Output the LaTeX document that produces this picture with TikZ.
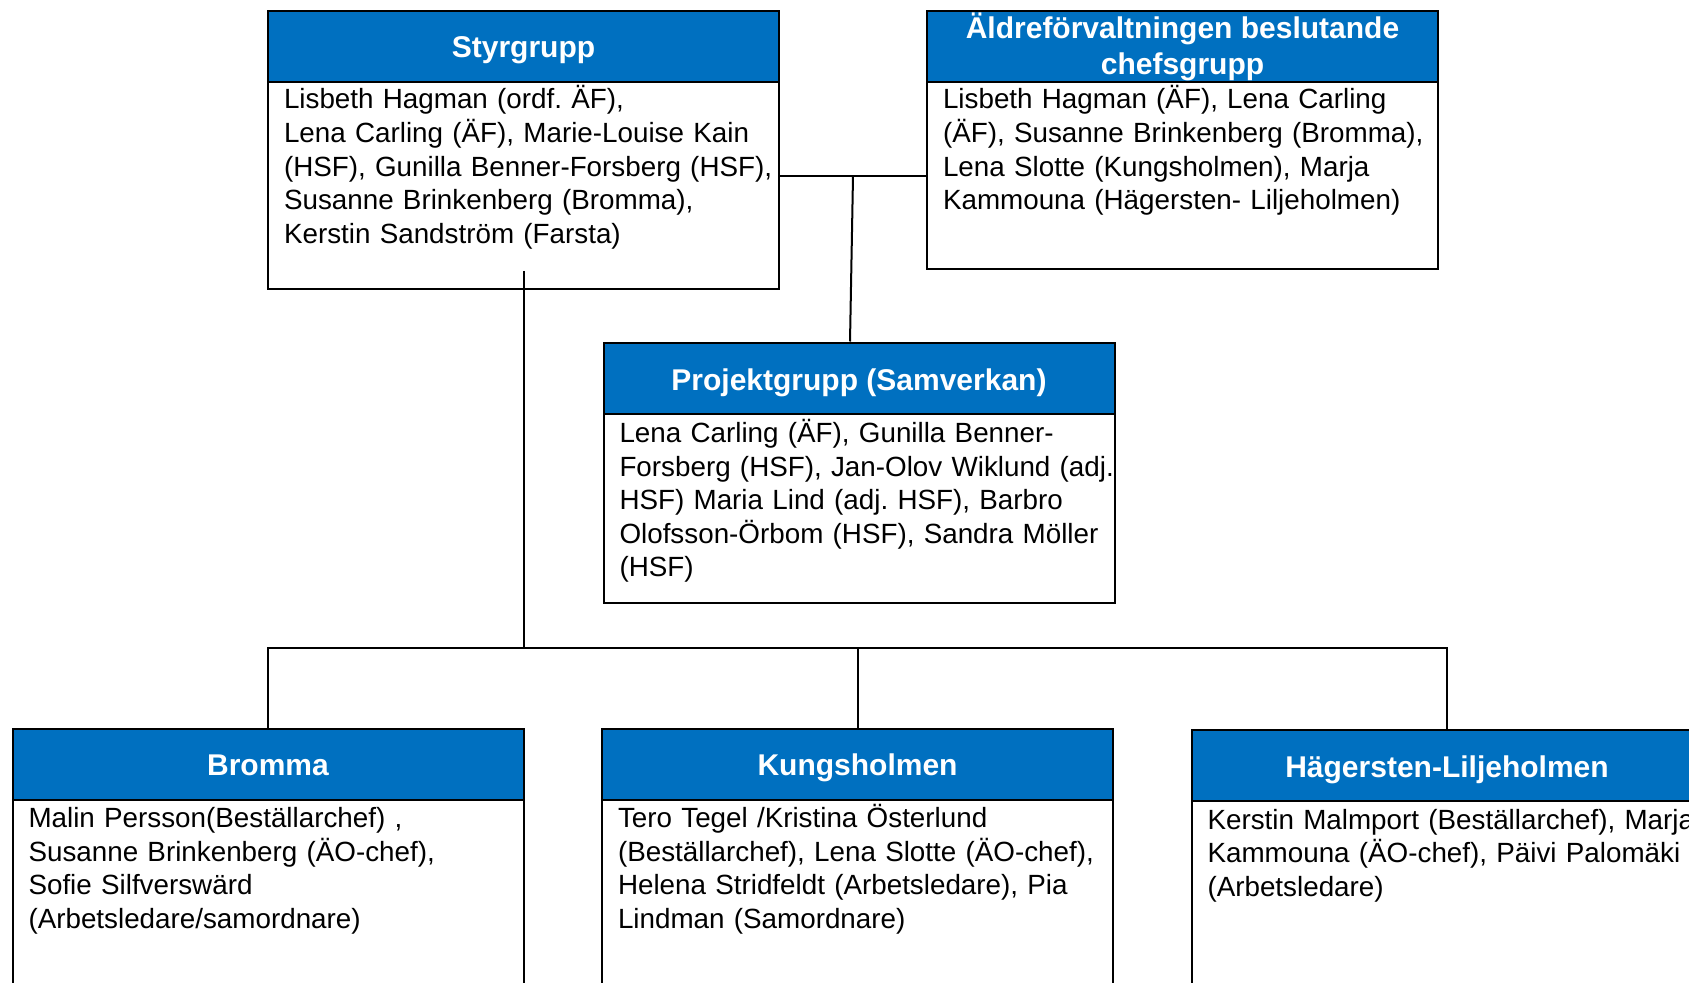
\documentclass[tikz,border=0pt]{standalone}
\usepackage{fontspec}
\setmainfont{Liberation Sans}
\usetikzlibrary{positioning}
\definecolor{hdblue}{RGB}{0,112,192}
\frenchspacing

\begin{document}
\begin{tikzpicture}[x=0.5pt,y=-0.5pt,line width=1pt,
    head/.style={draw=black,line width=1pt,fill=hdblue,text=white,font=\fontsize{15}{18}\selectfont\bfseries,minimum width=255.5pt,minimum height=35.5pt,inner ysep=0pt,outer sep=0pt,align=center,text height=12pt,text depth=0.5pt},
    body/.style={draw=black,line width=1pt,minimum width=255.5pt,outer sep=0pt},
    txt/.style={anchor=base west,inner sep=0pt,text width=300pt,align=left,font=\fontsize{13.9}{16.8}\selectfont},
    elbow/.style={to path={-| (\tikztotarget)}}]
            \useasboundingbox(0, 0)rectangle(1689, 983);
            \node[head](styr)at(523.5, 46.5){Styrgrupp};
            \node[body,below=0pt of styr,minimum height=103.5pt](styrbox){};
            \node[txt](styrtext)at([shift={(15,27)}]styrbox.north west){Lisbeth Hagman (ordf. ÄF),\\Lena Carling (ÄF), Marie-Louise Kain\\(HSF), Gunilla Benner-Forsberg (HSF),\\Susanne Brinkenberg (Bromma),\\Kerstin Sandström (Farsta)};
            \node[head,text height={},text depth={}](chef)at(1182.5, 46.5){Äldreförvaltningen beslutande\\chefsgrupp};
            \node[body,below=0pt of chef,minimum height=93.5pt](chefbox){};
            \node[txt](cheftext)at([shift={(15,27)}]chefbox.north west){Lisbeth Hagman (ÄF), Lena Carling\\(ÄF), Susanne Brinkenberg (Bromma),\\Lena Slotte (Kungsholmen), Marja\\Kammouna (Hägersten- Liljeholmen)};
            \node[head](proj)at(859, 379){Projektgrupp (Samverkan)};
            \node[body,below=0pt of proj,minimum height=94pt](projbox){};
            \node[txt](projtext)at([shift={(15,28)}]projbox.north west){Lena Carling (ÄF), Gunilla Benner-\\Forsberg (HSF), Jan-Olov Wiklund (adj.\\HSF) Maria Lind (adj. HSF), Barbro\\Olofsson-Örbom (HSF), Sandra Möller\\(HSF)};
            \node[head](brom)at(268, 764){Bromma};
            \node[body,below=0pt of brom,minimum height=150pt](brombox){};
            \node[txt](bromtext)at([shift={(15,28)}]brombox.north west){Malin Persson(Beställarchef) ,\\Susanne Brinkenberg (ÄO-chef),\\Sofie Silfverswärd\\(Arbetsledare/samordnare)};
            \node[head](kung)at(857.5, 764){Kungsholmen};
            \node[body,below=0pt of kung,minimum height=150pt](kungbox){};
            \node[txt](kungtext)at([shift={(15,28)}]kungbox.north west){Tero Tegel /Kristina Österlund\\(Beställarchef), Lena Slotte (ÄO-chef),\\Helena Stridfeldt (Arbetsledare), Pia\\Lindman (Samordnare)};
            \node[head](hag)at(1447, 765.5){Hägersten-Liljeholmen};
            \node[body,below=0pt of hag,minimum height=150pt](hagbox){};
            \node[txt](hagtext)at([shift={(15,28)}]hagbox.north west){Kerstin Malmport (Beställarchef), Marja\\Kammouna (ÄO-chef), Päivi Palomäki\\(Arbetsledare)};
            \coordinate(j1)at(853, 176);
            \coordinate(bus)at(523.5, 648);
            \path[](styrbox.east|-j1) edge (chefbox.west|-j1)
            (j1) edge ([shift={(-9,-2)}]proj.north)
            ([shift={(0,-18)}]styrbox.south) edge (bus)
            (bus) edge[elbow] (brom.north)
            (bus) edge[elbow] (kung.north)
            (bus) edge[elbow] (hag.north);
        \end{tikzpicture}
\end{document}
